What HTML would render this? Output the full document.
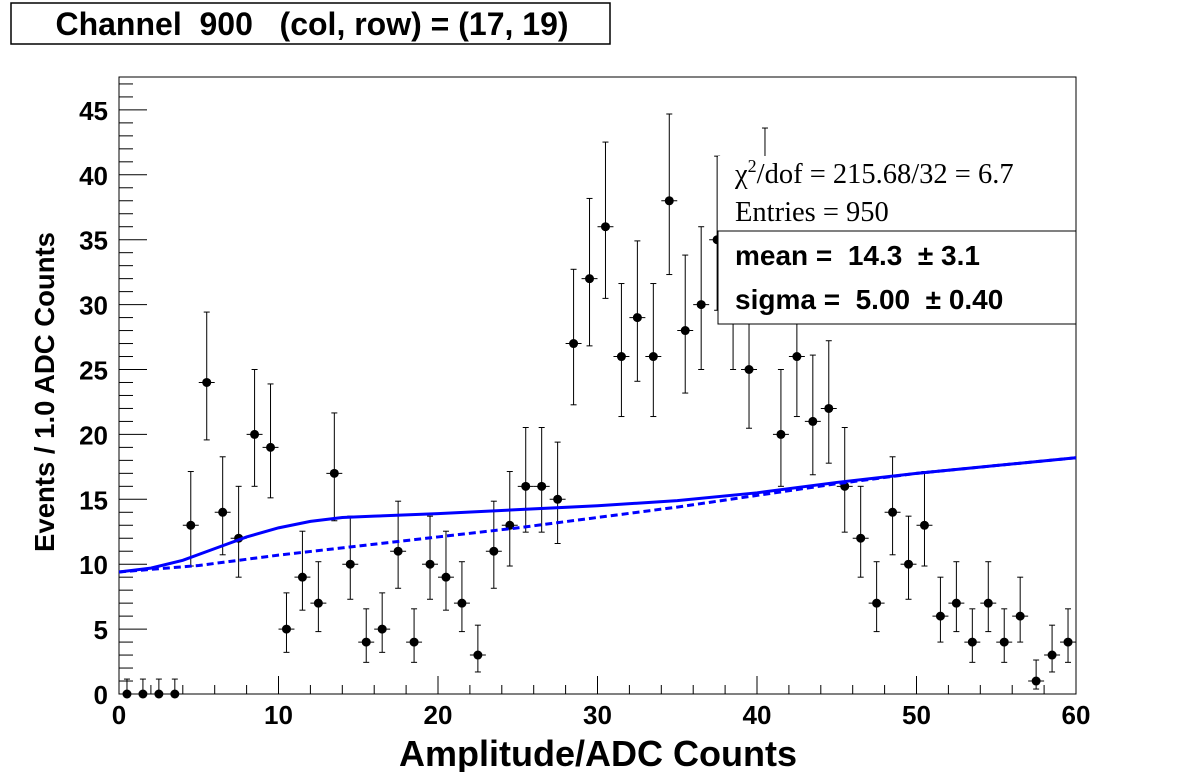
<!DOCTYPE html>
<html><head><meta charset="utf-8"><style>
body{margin:0;background:#fff;width:1196px;height:772px;overflow:hidden}
svg text{font-family:"Liberation Sans",sans-serif;white-space:pre}
</style></head><body>
<svg id="c" width="1196" height="772" xmlns="http://www.w3.org/2000/svg" xml:space="preserve">
<rect x="11" y="3" width="599" height="41" fill="#fff" stroke="#000" stroke-width="1.5"/>
<text x="312" y="35" text-anchor="middle" font-size="32" font-weight="bold">Channel  900   (col, row) = (17, 19)</text>
<rect x="119" y="77" width="957" height="617" fill="none" stroke="#000" stroke-width="1"/>
<g id="axes"></g><g id="marks"></g><g id="curves"></g>
<text x="598" y="766" text-anchor="middle" font-size="36" font-weight="bold">Amplitude/ADC Counts</text>
<text transform="translate(54,392) rotate(-90)" text-anchor="middle" font-size="27.5" font-weight="bold">Events / 1.0 ADC Counts</text>
<g id="legend">
<rect x="718" y="156" width="357" height="75" fill="#fff"/>
<text x="735" y="183" font-size="28.5" style="font-family:'Liberation Serif',serif">χ<tspan dy="-11" font-size="18">2</tspan><tspan dy="11">/dof = 215.68/32 = 6.7</tspan></text>
<text x="735" y="221" font-size="28.5" style="font-family:'Liberation Serif',serif">Entries = 950</text>
<rect x="718" y="231" width="358" height="93" fill="#fff" stroke="#000" stroke-width="1"/>
<text x="735" y="265" font-size="28" font-weight="bold">mean =  14.3  ± 3.1</text>
<text x="735" y="309" font-size="28" font-weight="bold">sigma =  5.00  ± 0.40</text>
</g>
</svg>
<script>
const binCenters=[0.5,1.5,2.5,3.5,4.5,5.5,6.5,7.5,8.5,9.5,10.5,11.5,12.5,13.5,14.5,15.5,16.5,17.5,18.5,19.5,20.5,21.5,22.5,23.5,24.5,25.5,26.5,27.5,28.5,29.5,30.5,31.5,32.5,33.5,34.5,35.5,36.5,37.5,38.5,39.5,40.5,41.5,42.5,43.5,44.5,45.5,46.5,47.5,48.5,49.5,50.5,51.5,52.5,53.5,54.5,55.5,56.5,57.5,58.5,59.5];
const counts=[0,0,0,0,13,24,14,12,20,19,5,9,7,17,10,4,5,11,4,10,9,7,3,11,13,16,16,15,27,32,36,26,29,26,38,28,30,35,30,25,37,20,26,21,22,16,12,7,14,10,13,6,7,4,7,4,6,1,3,4];
const totalX=[0,2,4,6,8,10,12,14,16,20,25,30,35,40,45,50,55,60];
const totalY=[9.4,9.7,10.3,11.2,12.1,12.8,13.3,13.6,13.7,13.9,14.2,14.5,14.9,15.5,16.3,17.0,17.6,18.2];
const bgX=[0,5,10,15,20,25,30,35,40,45,50,55,60];
const bgY=[9.4,9.9,10.7,11.4,12.1,12.8,13.6,14.4,15.3,16.2,17.0,17.6,18.2];
const xTicks=[0,10,20,30,40,50,60];
const yTicks=[0,5,10,15,20,25,30,35,40,45];
const NS="http://www.w3.org/2000/svg";
const X=v=>119+v*(957/60), Y=v=>694-v*12.98;
function mk(t,a,p){const e=document.createElementNS(NS,t);for(const k in a)e.setAttribute(k,a[k]);p.appendChild(e);return e;}
const ax=document.getElementById('axes');
for(let i=0;i<=30;i++){const x=X(i*2);const maj=i%5==0;
 const l=mk('line',{x1:x,x2:x,y1:694,y2:694-(maj?18:9),stroke:'#000'},ax);
 }
for(let v=0;v<=47;v++){const y=Y(v);const maj=v%5==0;
 const l=mk('line',{x1:119,x2:119+(maj?28:14),y1:y,y2:y,stroke:'#000'},ax);
 }
xTicks.forEach(v=>{const t=mk('text',{x:X(v),y:724,'text-anchor':'middle','font-size':26,'font-weight':'bold'},ax);t.textContent=v;
 });
yTicks.forEach(v=>{const t=mk('text',{x:108,y:Y(v)+10,'text-anchor':'end','font-size':26,'font-weight':'bold'},ax);t.textContent=v;
 });
const mg=document.getElementById('marks');
binCenters.forEach((c,i)=>{const n=counts[i];const g=mk('g',{},mg);
 
 const up=n>0?Math.sqrt(n+0.25)+0.5:1.15, dn=n>0?Math.sqrt(n+0.25)-0.5:0;
 const x=X(c),y=Y(n);
 mk('line',{x1:x,x2:x,y1:Y(n+up),y2:Y(Math.max(0,n-dn)),stroke:'#000'},g);
 mk('line',{x1:x-3,x2:x+3,y1:Y(n+up),y2:Y(n+up),stroke:'#000'},g);
 if(n>0) mk('line',{x1:x-3,x2:x+3,y1:Y(n-dn),y2:Y(n-dn),stroke:'#000'},g);
 mk('line',{x1:X(c-0.5),x2:X(c+0.5),y1:y,y2:y,stroke:'#000'},g);
 mk('circle',{cx:x,cy:y,r:4.5,fill:'#000'},g);});
const cg=document.getElementById('curves');
const pts=(xs,ys)=>xs.map((v,i)=>X(v)+','+Y(ys[i])).join(' ');
const s=mk('polyline',{points:pts(totalX,totalY),fill:'none',stroke:'#0000ff','stroke-width':3},cg);

const d=mk('polyline',{points:pts(bgX,bgY),fill:'none',stroke:'#0000ff','stroke-width':3,'stroke-dasharray':'7,4'},cg);

const svg=document.getElementById('c');svg.appendChild(document.getElementById('legend'));
</script>
</body></html>
